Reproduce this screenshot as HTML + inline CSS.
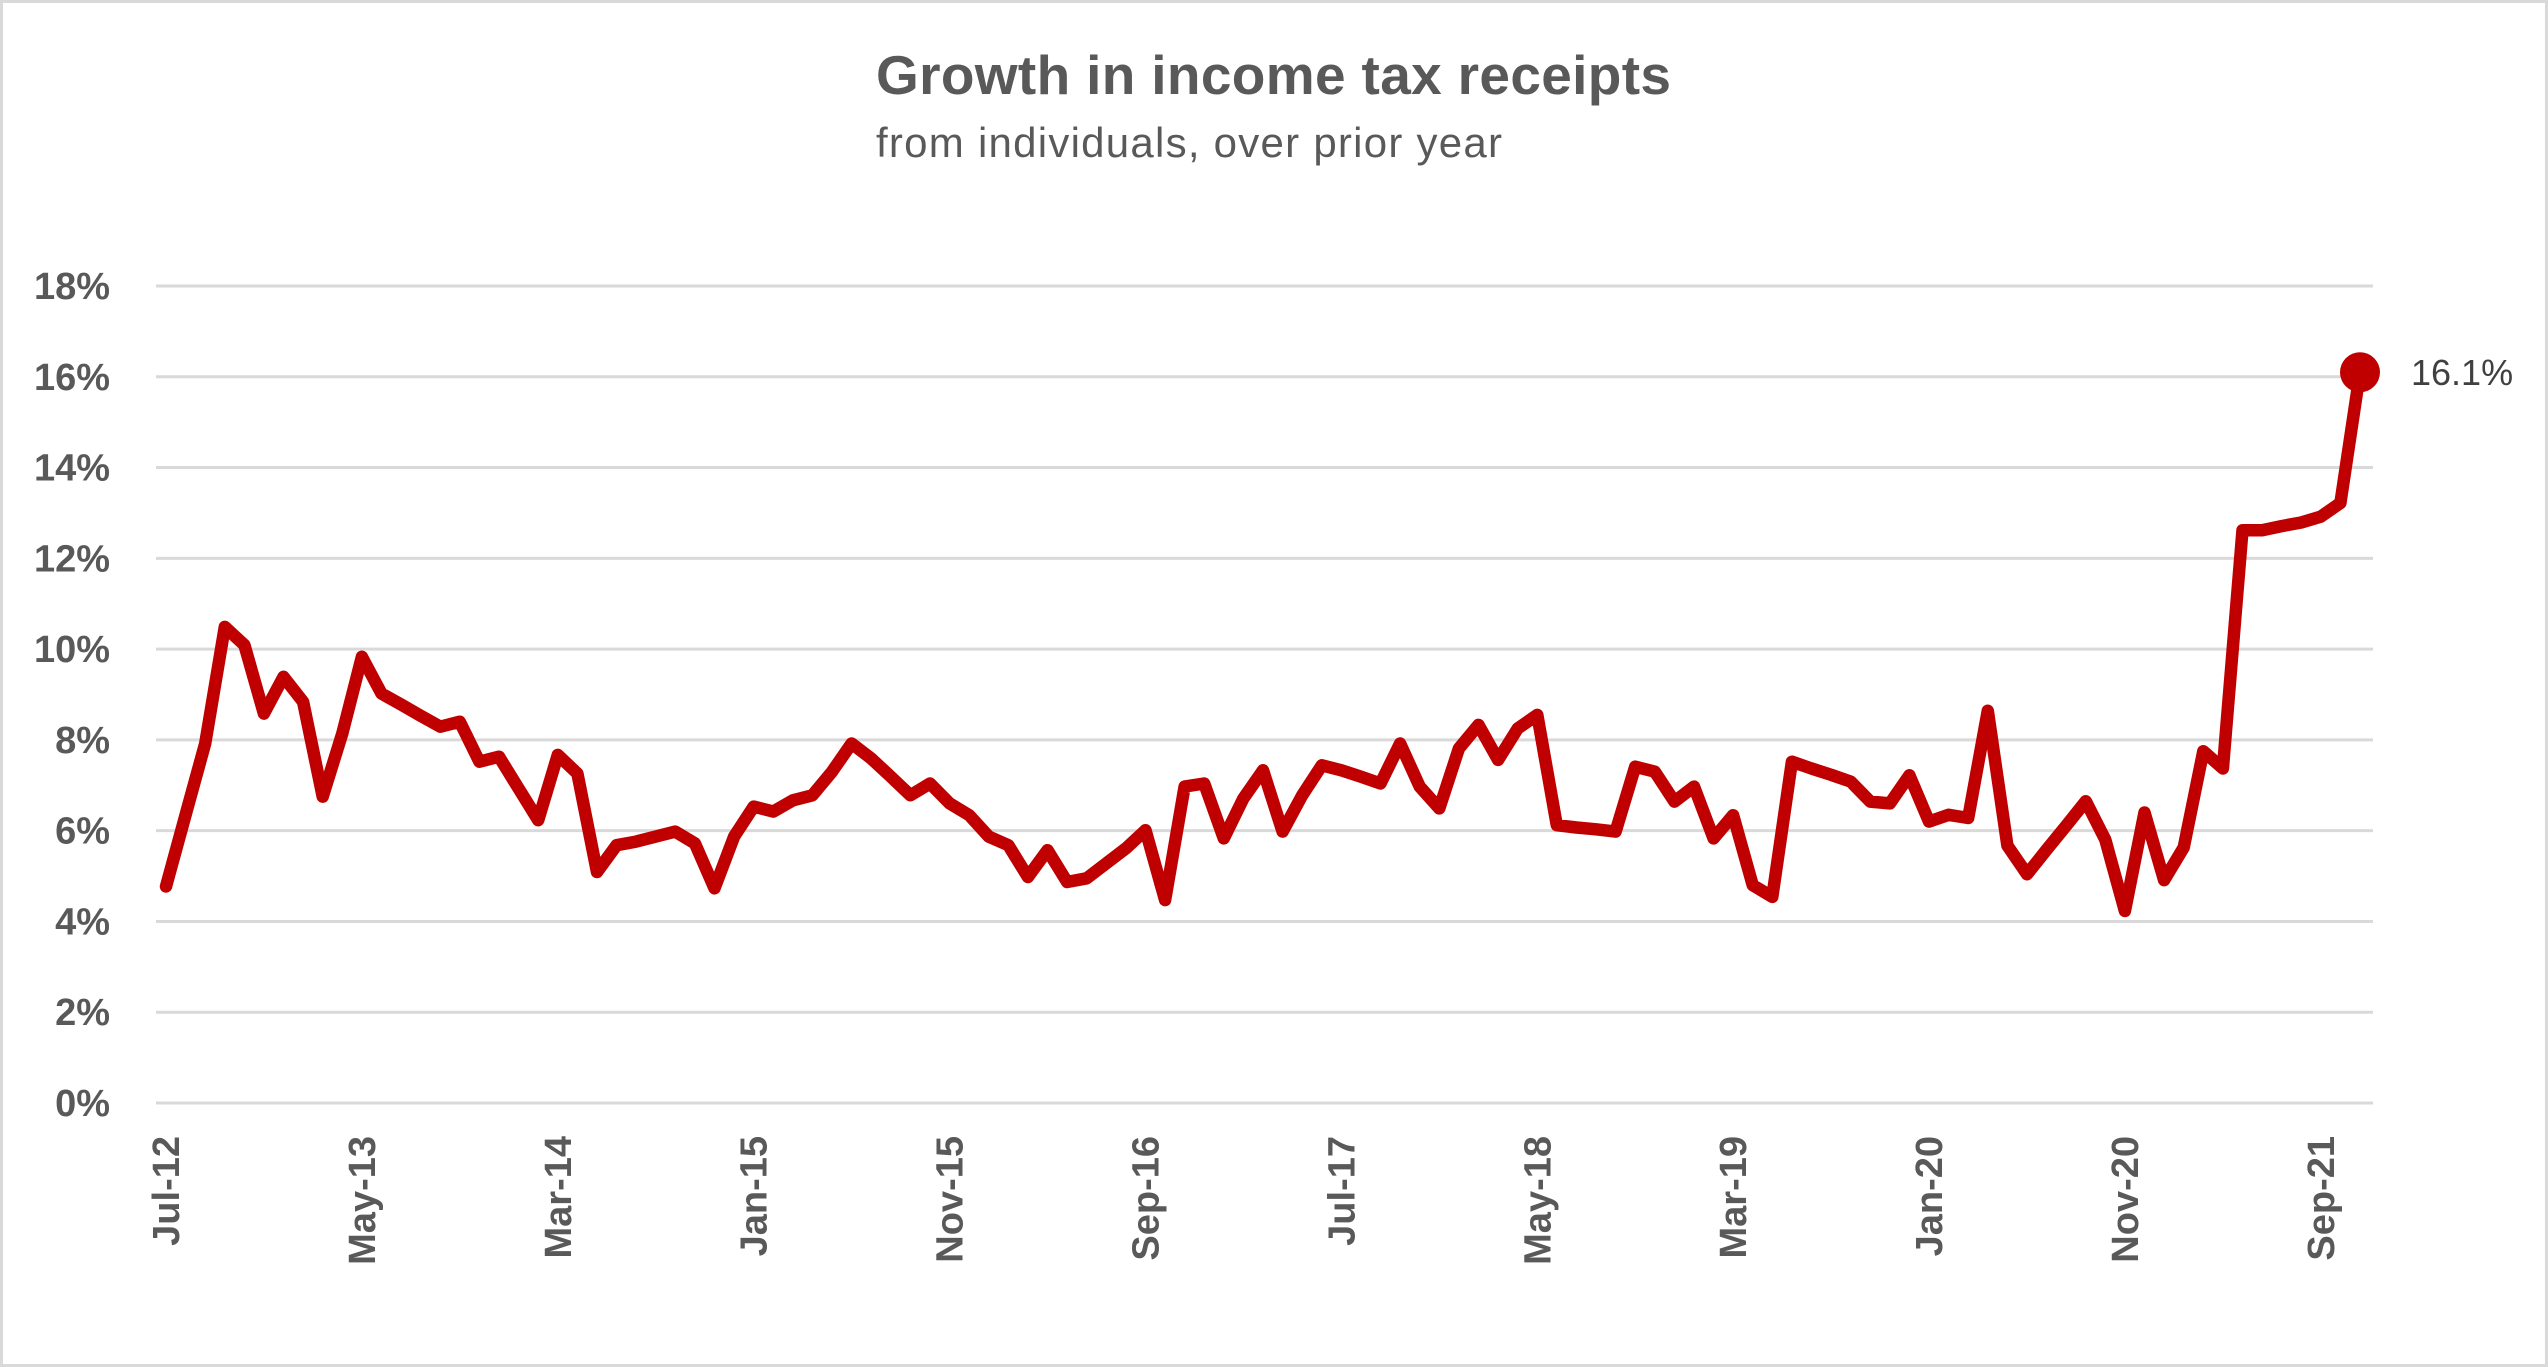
<!DOCTYPE html>
<html><head><meta charset="utf-8"><style>
html,body{margin:0;padding:0;background:#fff}
svg{display:block}
text{font-family:"Liberation Sans",sans-serif}
</style></head><body>
<svg id="chart" width="2548" height="1367" viewBox="0 0 2548 1367">
<rect x="1.5" y="1.5" width="2545" height="1364" fill="#fff" stroke="#d9d9d9" stroke-width="3"/>
<text x="876" y="94" font-size="55" font-weight="bold" fill="#595959" textLength="795">Growth in income tax receipts</text>
<text x="876" y="157" font-size="42" fill="#595959" textLength="626">from individuals, over prior year</text>
<g id="grid"></g><g id="yaxis"></g><g id="xaxis"></g><g id="series"></g>
</svg>
<script>
const yTicks = [0,2,4,6,8,10,12,14,16,18];
const xTickLabels = ["Jul-12","May-13","Mar-14","Jan-15","Nov-15","Sep-16","Jul-17","May-18","Mar-19","Jan-20","Nov-20","Sep-21"];
const xTickIndex = [0,10,20,30,40,50,60,70,80,90,100,110];
const values = [4.77,6.35,7.92,10.49,10.09,8.58,9.39,8.84,6.75,8.14,9.83,9.02,8.78,8.53,8.29,8.40,7.52,7.63,6.93,6.23,
7.67,7.26,5.09,5.68,5.76,5.87,5.98,5.72,4.73,5.87,6.53,6.42,6.67,6.78,7.30,7.92,7.59,7.19,6.78,7.04,
6.60,6.34,5.87,5.68,4.98,5.57,4.87,4.95,5.28,5.61,6.01,4.47,6.97,7.04,5.83,6.71,7.33,5.98,6.78,7.44,
7.33,7.19,7.04,7.92,6.97,6.49,7.81,8.33,7.56,8.25,8.55,6.12,6.07,6.03,5.98,7.41,7.30,6.64,6.97,5.83,
6.34,4.80,4.54,7.52,7.37,7.23,7.08,6.64,6.60,7.22,6.20,6.35,6.28,8.64,5.67,5.04,5.58,6.11,6.65,5.80,
4.23,6.40,4.91,5.63,7.75,7.37,12.62,12.62,12.71,12.79,12.92,13.22,16.1];
const endLabel = "16.1%";

const NS = "http://www.w3.org/2000/svg";
const X0 = 166, X1 = 2360, Y0 = 1103, YTOP = 286;
const xs = i => X0 + i * (X1 - X0) / (values.length - 1);
const ys = v => Y0 - v * (Y0 - YTOP) / 18;
function mk(tag, attrs, parent, txt){
  const e = document.createElementNS(NS, tag);
  for (const k in attrs) e.setAttribute(k, attrs[k]);
  if (txt !== undefined) e.textContent = txt;
  document.getElementById(parent).appendChild(e);
  return e;
}
yTicks.forEach(t => {
  const g = mk("line", {x1:156, x2:2373, y1:ys(t), y2:ys(t), stroke:"#d9d9d9", "stroke-width":3}, "grid");
  
  
  const l = mk("text", {x:110, y:ys(t)+13, "font-size":38, "font-weight":"bold", fill:"#595959", "text-anchor":"end"}, "yaxis", t + "%");
  
  
});
xTickLabels.forEach((lab, k) => {
  const x = xs(xTickIndex[k]);
  const t = mk("text", {x:0, y:0, "font-size":38, "font-weight":"bold", fill:"#595959", "text-anchor":"end", transform:`translate(${x+13},1136) rotate(-90)`}, "xaxis", lab);
  
  
});
const pts = values.map((v,i) => xs(i).toFixed(1) + "," + ys(v).toFixed(1)).join(" ");
const line = mk("polyline", {points:pts, fill:"none", stroke:"#c00000", "stroke-width":12.5, "stroke-linejoin":"round", "stroke-linecap":"round"}, "series");


const last = values.length - 1;
const dot = mk("circle", {cx:xs(last), cy:ys(values[last]), r:20, fill:"#c00000"}, "series");


const dl = mk("text", {x:xs(last)+51, y:ys(values[last])+13, "font-size":36, fill:"#404040"}, "series", endLabel);


</script>
</body></html>
